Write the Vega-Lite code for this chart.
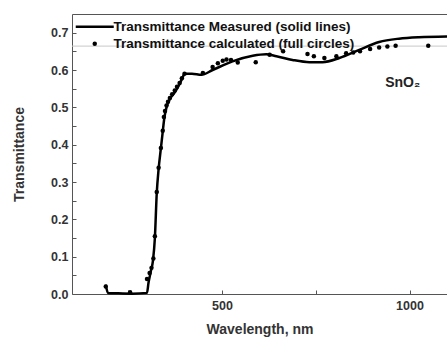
{
  "$schema": "https://vega.github.io/schema/vega-lite/v6.json",
  "width": 375,
  "height": 280,
  "autosize": "none",
  "padding": {"left": 72, "top": 14, "right": 0, "bottom": 46},
  "background": "white",
  "config": {
    "view": {"stroke": null},
    "font": "Liberation Sans",
    "axis": {
      "domainColor": "#555",
      "tickColor": "#555",
      "labelFont": "Liberation Sans",
      "titleFont": "Liberation Sans",
      "labelFontWeight": "bold",
      "titleFontWeight": "bold",
      "labelColor": "#333",
      "titleColor": "#333",
      "labelFontSize": 12.5,
      "titleFontSize": 14,
      "grid": false
    }
  },
  "datasets": {
    "measured": [
      {"wavelength": 190, "T": 0.025},
      {"wavelength": 196, "T": 0.003},
      {"wavelength": 220, "T": 0.002},
      {"wavelength": 260, "T": 0.001},
      {"wavelength": 300, "T": 0.003},
      {"wavelength": 304, "T": 0.03},
      {"wavelength": 310, "T": 0.06},
      {"wavelength": 316, "T": 0.09},
      {"wavelength": 321, "T": 0.15},
      {"wavelength": 326, "T": 0.27},
      {"wavelength": 331, "T": 0.335},
      {"wavelength": 337, "T": 0.39},
      {"wavelength": 342, "T": 0.435},
      {"wavelength": 346, "T": 0.47},
      {"wavelength": 352, "T": 0.5},
      {"wavelength": 361, "T": 0.522},
      {"wavelength": 374, "T": 0.54},
      {"wavelength": 387, "T": 0.563},
      {"wavelength": 395, "T": 0.58},
      {"wavelength": 400, "T": 0.59},
      {"wavelength": 420, "T": 0.59},
      {"wavelength": 445, "T": 0.587},
      {"wavelength": 475, "T": 0.6},
      {"wavelength": 528, "T": 0.623},
      {"wavelength": 582, "T": 0.638},
      {"wavelength": 618, "T": 0.642},
      {"wavelength": 645, "T": 0.637},
      {"wavelength": 688, "T": 0.627},
      {"wavelength": 733, "T": 0.621},
      {"wavelength": 768, "T": 0.621},
      {"wavelength": 813, "T": 0.632},
      {"wavelength": 866, "T": 0.654},
      {"wavelength": 919, "T": 0.675},
      {"wavelength": 972, "T": 0.684},
      {"wavelength": 1025, "T": 0.688},
      {"wavelength": 1100, "T": 0.69}
    ],
    "calculated": [
      {"wavelength": 190, "T": 0.02},
      {"wavelength": 255, "T": 0.005},
      {"wavelength": 300, "T": 0.04},
      {"wavelength": 307, "T": 0.056},
      {"wavelength": 312, "T": 0.07},
      {"wavelength": 317, "T": 0.095},
      {"wavelength": 321, "T": 0.155},
      {"wavelength": 326, "T": 0.273},
      {"wavelength": 331, "T": 0.338},
      {"wavelength": 337, "T": 0.391},
      {"wavelength": 342, "T": 0.437},
      {"wavelength": 345, "T": 0.474},
      {"wavelength": 348, "T": 0.49},
      {"wavelength": 352, "T": 0.505},
      {"wavelength": 356, "T": 0.515},
      {"wavelength": 361, "T": 0.525},
      {"wavelength": 367, "T": 0.535},
      {"wavelength": 374, "T": 0.545},
      {"wavelength": 380, "T": 0.555},
      {"wavelength": 387, "T": 0.565},
      {"wavelength": 393, "T": 0.578},
      {"wavelength": 400, "T": 0.59},
      {"wavelength": 449, "T": 0.592},
      {"wavelength": 475, "T": 0.608},
      {"wavelength": 489, "T": 0.618},
      {"wavelength": 502, "T": 0.625},
      {"wavelength": 512, "T": 0.628},
      {"wavelength": 524, "T": 0.627},
      {"wavelength": 542, "T": 0.62},
      {"wavelength": 590, "T": 0.621},
      {"wavelength": 627, "T": 0.641},
      {"wavelength": 663, "T": 0.65},
      {"wavelength": 728, "T": 0.643},
      {"wavelength": 745, "T": 0.637},
      {"wavelength": 773, "T": 0.632},
      {"wavelength": 805, "T": 0.637},
      {"wavelength": 831, "T": 0.645},
      {"wavelength": 850, "T": 0.647},
      {"wavelength": 868, "T": 0.65},
      {"wavelength": 895, "T": 0.656},
      {"wavelength": 919, "T": 0.66},
      {"wavelength": 941, "T": 0.663},
      {"wavelength": 963, "T": 0.665},
      {"wavelength": 1050, "T": 0.665}
    ]
  },
  "resolve": {"axis": {"x": "independent", "y": "independent"}},
  "layer": [
    {
      "data": {"values": [{}]},
      "mark": {"type": "rule", "color": "#c8c8c8", "strokeWidth": 1},
      "encoding": {
        "y": {"datum": 0.664, "type": "quantitative", "scale": {"domain": [0, 0.75]}, "axis": null}
      }
    },
    {
      "data": {"name": "measured"},
      "transform": [{"calculate": "'Transmittance Measured (solid lines)'", "as": "series"}],
      "mark": {"type": "line", "strokeWidth": 2.5, "interpolate": "monotone"},
      "encoding": {
        "x": {
          "field": "wavelength", "type": "quantitative",
          "scale": {"domain": [100, 1100], "nice": false},
          "axis": {
            "title": "Wavelength, nm",
            "values": [250, 500, 750, 1000],
            "labelExpr": "datum.value % 500 == 0 ? datum.label : ''",
            "format": "d",
            "tickSize": -4,
            "labelPadding": 9,
            "titlePadding": 11
          }
        },
        "y": {
          "field": "T", "type": "quantitative",
          "scale": {"domain": [0, 0.75], "nice": false},
          "axis": {
            "title": "Transmittance",
            "values": [0, 0.05, 0.1, 0.15, 0.2, 0.25, 0.3, 0.35, 0.4, 0.45, 0.5, 0.55, 0.6, 0.65, 0.7],
            "labelExpr": "round(datum.value * 20) % 2 == 0 ? format(datum.value, '.1f') : ''",
            "tickSize": -4,
            "labelPadding": 8,
            "titlePadding": 24
          }
        },
        "color": {
          "field": "series", "type": "nominal",
          "scale": {
            "domain": ["Transmittance Measured (solid lines)", "Transmittance calculated (full circles)"],
            "range": ["black", "black"]
          },
          "legend": {
            "title": null,
            "orient": "none",
            "legendX": 16,
            "legendY": 6,
            "padding": 0,
            "symbolType": "stroke",
            "symbolSize": 1444,
            "symbolStrokeWidth": 2.5,
            "labelFont": "Liberation Sans",
            "labelFontWeight": "bold",
            "labelFontSize": 13.5,
            "labelColor": "#111",
            "labelOffset": 12,
            "labelLimit": 400,
            "rowPadding": 2,
            "encode": {
              "symbols": {
                "update": {
                  "shape": {"signal": "datum.value == 'Transmittance Measured (solid lines)' ? 'stroke' : 'circle'"},
                  "size": {"signal": "datum.value == 'Transmittance Measured (solid lines)' ? 1444 : 20"},
                  "fill": {"signal": "datum.value == 'Transmittance Measured (solid lines)' ? 'transparent' : 'black'"},
                  "stroke": {"value": "black"},
                  "strokeWidth": {"signal": "datum.value == 'Transmittance Measured (solid lines)' ? 2.5 : 0"}
                }
              }
            }
          }
        }
      }
    },
    {
      "data": {"name": "calculated"},
      "transform": [{"calculate": "'Transmittance calculated (full circles)'", "as": "series"}],
      "mark": {"type": "point", "filled": true, "size": 20, "opacity": 1},
      "encoding": {
        "x": {"field": "wavelength", "type": "quantitative", "scale": {"domain": [100, 1100], "nice": false}, "axis": null},
        "y": {"field": "T", "type": "quantitative", "scale": {"domain": [0, 0.75], "nice": false}, "axis": null},
        "color": {"field": "series", "type": "nominal"}
      }
    },
    {
      "data": {"values": [{}]},
      "mark": {"type": "text", "text": "SnO₂", "align": "left", "baseline": "middle", "font": "Liberation Sans", "fontWeight": "bold", "fontSize": 14, "color": "#222"},
      "encoding": {
        "x": {"datum": 935, "type": "quantitative", "axis": {"orient": "top", "labels": false, "ticks": false, "title": null, "domainColor": "#555"}},
        "y": {"datum": 0.565, "type": "quantitative", "axis": null}
      }
    }
  ]
}
